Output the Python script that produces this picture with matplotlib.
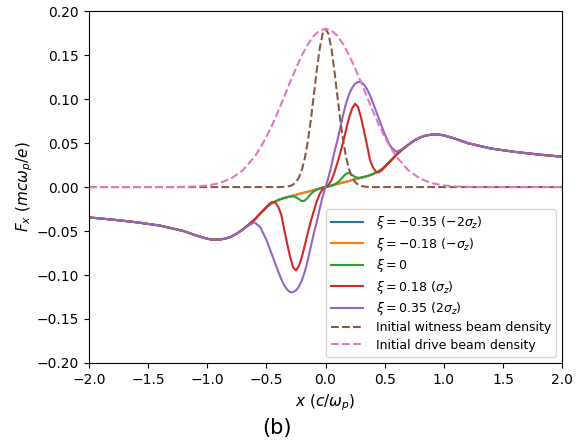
import matplotlib
matplotlib.use("Agg")
import matplotlib.pyplot as plt

# x positions (c/omega_p) for the force curves
x_f = [-2.0, -1.8, -1.6, -1.4, -1.2, -1.1, -1.0, -0.95, -0.9, -0.85, -0.8, -0.75, -0.7, -0.65, -0.6, -0.55,
       -0.5, -0.475, -0.45, -0.425, -0.4, -0.375, -0.35, -0.325, -0.3, -0.275, -0.25, -0.225, -0.2, -0.175,
       -0.15, -0.125, -0.1, -0.075, -0.05, -0.025,
       0.0,
       0.025, 0.05, 0.075, 0.1, 0.125, 0.15, 0.175, 0.2, 0.225, 0.25, 0.275, 0.3, 0.325, 0.35, 0.375,
       0.4, 0.425, 0.45, 0.475, 0.5,
       0.55, 0.6, 0.65, 0.7, 0.75, 0.8, 0.85, 0.9, 0.95, 1.0, 1.1, 1.2, 1.4, 1.6, 1.8, 2.0]

# xi = -0.35 and xi = -0.18 lie on top of each other
f_xi_m035 = [-0.0345, -0.0370, -0.0400, -0.0438, -0.0500, -0.0548, -0.0588, -0.0598, -0.0597, -0.0587, -0.0565, -0.0530, -0.0482, -0.0428, -0.0370, -0.0298,
             -0.0230, -0.0203, -0.0180, -0.0163, -0.0148, -0.0135, -0.0124, -0.0115, -0.0106, -0.0097, -0.0088, -0.0079, -0.0070, -0.0061,
             -0.0053, -0.0044, -0.0035, -0.0026, -0.0018, -0.0009,
             0.0,
             0.0009, 0.0018, 0.0026, 0.0035, 0.0044, 0.0053, 0.0061, 0.0070, 0.0079, 0.0088, 0.0097, 0.0106, 0.0115, 0.0124, 0.0135,
             0.0148, 0.0163, 0.0180, 0.0203, 0.0230,
             0.0298, 0.0370, 0.0428, 0.0482, 0.0530, 0.0565, 0.0587, 0.0597, 0.0598, 0.0588, 0.0548, 0.0500, 0.0438, 0.0400, 0.0370, 0.0345]
f_xi_m018 = f_xi_m035

f_xi_0 = [-0.0345, -0.0370, -0.0400, -0.0438, -0.0500, -0.0548, -0.0588, -0.0598, -0.0597, -0.0587, -0.0565, -0.0530, -0.0482, -0.0428, -0.0370, -0.0298,
          -0.0230, -0.0203, -0.0180, -0.0163, -0.0148, -0.0135, -0.0125, -0.0116, -0.0108, -0.0105, -0.0115, -0.0138, -0.0160, -0.0153,
          -0.0120, -0.0080, -0.0050, -0.0030, -0.0015, -0.0005,
          0.0,
          0.0005, 0.0015, 0.0030, 0.0050, 0.0080, 0.0120, 0.0153, 0.0160, 0.0138, 0.0115, 0.0105, 0.0108, 0.0116, 0.0125, 0.0135,
          0.0148, 0.0163, 0.0180, 0.0203, 0.0230,
          0.0298, 0.0370, 0.0428, 0.0482, 0.0530, 0.0565, 0.0587, 0.0597, 0.0598, 0.0588, 0.0548, 0.0500, 0.0438, 0.0400, 0.0370, 0.0345]

f_xi_018 = [-0.0345, -0.0370, -0.0400, -0.0438, -0.0500, -0.0548, -0.0588, -0.0598, -0.0597, -0.0587, -0.0565, -0.0530, -0.0482, -0.0428, -0.0370, -0.0298,
            -0.0230, -0.0190, -0.0168, -0.0175, -0.0225, -0.0310, -0.0480, -0.0640, -0.0790, -0.0910, -0.0948, -0.0895, -0.0795, -0.0660,
            -0.0520, -0.0390, -0.0275, -0.0165, -0.0080, -0.0025,
            0.0,
            0.0025, 0.0080, 0.0165, 0.0275, 0.0390, 0.0520, 0.0660, 0.0795, 0.0895, 0.0948, 0.0910, 0.0790, 0.0640, 0.0480, 0.0310,
            0.0225, 0.0175, 0.0168, 0.0190, 0.0230,
            0.0298, 0.0370, 0.0428, 0.0482, 0.0530, 0.0565, 0.0587, 0.0597, 0.0598, 0.0588, 0.0548, 0.0500, 0.0438, 0.0400, 0.0370, 0.0345]

f_xi_035 = [-0.0345, -0.0370, -0.0400, -0.0438, -0.0500, -0.0548, -0.0588, -0.0598, -0.0597, -0.0587, -0.0565, -0.0530, -0.0485, -0.0435, -0.0400, -0.0460,
            -0.0600, -0.0690, -0.0780, -0.0870, -0.0960, -0.1045, -0.1115, -0.1165, -0.1195, -0.1195, -0.1175, -0.1130, -0.1060, -0.0960,
            -0.0830, -0.0680, -0.0530, -0.0400, -0.0250, -0.0110,
            0.0,
            0.0110, 0.0250, 0.0400, 0.0530, 0.0680, 0.0830, 0.0960, 0.1060, 0.1130, 0.1175, 0.1195, 0.1195, 0.1165, 0.1115, 0.1045,
            0.0960, 0.0870, 0.0780, 0.0690, 0.0600,
            0.0460, 0.0400, 0.0435, 0.0485, 0.0530, 0.0565, 0.0587, 0.0597, 0.0598, 0.0588, 0.0548, 0.0500, 0.0438, 0.0400, 0.0370, 0.0345]

# initial beam densities (scaled)
x_witness = [-2.0, -0.4, -0.35, -0.3, -0.275, -0.25, -0.225, -0.2, -0.175, -0.15, -0.125, -0.1, -0.075, -0.05, -0.025,
             0.0, 0.025, 0.05, 0.075, 0.1, 0.125, 0.15, 0.175, 0.2, 0.225, 0.25, 0.275, 0.3, 0.35, 0.4, 2.0]
n_witness = [0.0, 0.0, 0.0002, 0.0012, 0.0027, 0.0057, 0.0109, 0.0196, 0.0330, 0.0518, 0.0757, 0.1035, 0.1320, 0.1570, 0.1740,
             0.1800, 0.1740, 0.1570, 0.1320, 0.1035, 0.0757, 0.0518, 0.0330, 0.0196, 0.0109, 0.0057, 0.0027, 0.0012, 0.0002, 0.0, 0.0]

x_drive = [-2.0, -1.5, -1.3, -1.2, -1.1, -1.0, -0.9, -0.8, -0.7, -0.6, -0.55, -0.5, -0.45, -0.4, -0.35, -0.3, -0.25, -0.2,
           -0.15, -0.1, -0.05, 0.0, 0.05, 0.1, 0.15, 0.2, 0.25, 0.3, 0.35, 0.4, 0.45, 0.5, 0.55, 0.6, 0.7, 0.8,
           0.9, 1.0, 1.1, 1.2, 1.3, 1.5, 2.0]
n_drive = [0.0, 0.0, 0.0, 0.0002, 0.0007, 0.0018, 0.0044, 0.0095, 0.0190, 0.0345, 0.0449, 0.0571, 0.0710, 0.0863, 0.1026, 0.1191, 0.1351, 0.1498,
           0.1623, 0.1720, 0.1780, 0.1800, 0.1780, 0.1720, 0.1623, 0.1498, 0.1351, 0.1191, 0.1026, 0.0863, 0.0710, 0.0571, 0.0449, 0.0345, 0.0190, 0.0095,
           0.0044, 0.0018, 0.0007, 0.0002, 0.0, 0.0, 0.0]

labels = [r'$\xi = -0.35\ (-2\sigma_z)$', r'$\xi = -0.18\ (-\sigma_z)$', r'$\xi = 0$',
          r'$\xi = 0.18\ (\sigma_z)$', r'$\xi = 0.35\ (2\sigma_z)$',
          'Initial witness beam density', 'Initial drive beam density']

fig = plt.figure(figsize=(5.85, 4.47), dpi=100)
ax = fig.add_axes([0.152, 0.188, 0.809, 0.787])

ax.plot(x_f, f_xi_m035, color='C0', label=labels[0])
ax.plot(x_f, f_xi_m018, color='C1', label=labels[1])
ax.plot(x_f, f_xi_0, color='C2', label=labels[2])
ax.plot(x_f, f_xi_018, color='C3', label=labels[3])
ax.plot(x_f, f_xi_035, color='C4', label=labels[4])
ax.plot(x_witness, n_witness, '--', color='C5', label=labels[5])
ax.plot(x_drive, n_drive, '--', color='C6', label=labels[6])

ax.set_xlim(-2, 2)
ax.set_ylim(-0.2, 0.2)
ax.set_xlabel(r'$x\ (c/\omega_p)$', fontsize=11)
ax.set_ylabel(r'$F_x\ (mc\omega_p/e)$', fontsize=11, labelpad=1)
ax.tick_params(labelsize=10)
ax.legend(loc='lower right', fontsize=9, handlelength=2.6, handletextpad=1.0,
          labelspacing=0.35)

fig.text(0.474, 0.042, '(b)', fontsize=15, ha='center', va='center')

fig.savefig('out.png', dpi=100)
